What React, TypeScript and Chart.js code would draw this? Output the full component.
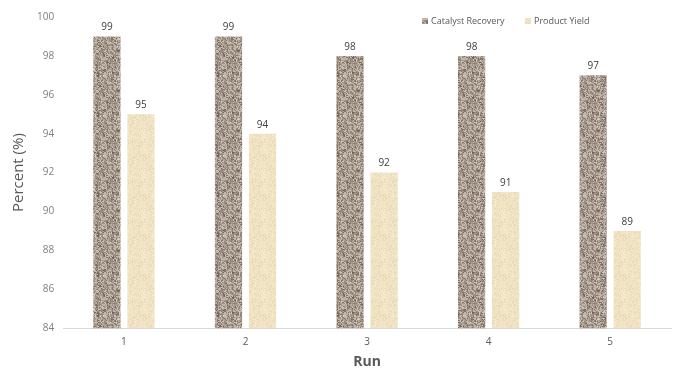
import React, { useEffect, useRef } from "react";
import { Chart, registerables } from "chart.js";

Chart.register(...registerables);

const categories = ["1", "2", "3", "4", "5"];
const catalystRecovery = [99, 99, 98, 98, 97];
const productYield = [95, 94, 92, 91, 89];
const seriesNames = ["Catalyst Recovery", "Product Yield"];
const yTicks = [84, 86, 88, 90, 92, 94, 96, 98, 100];

function hash(i: number, j: number, s: number) {
  let h = (i * 374761393 + j * 668265263 + s * 1442695040) | 0;
  h = (h ^ (h >>> 13)) * 1274126177;
  h = h ^ (h >>> 16);
  return ((h >>> 0) % 1000) / 1000;
}

function makePattern(kind: number): CanvasPattern | string {
  const c = document.createElement("canvas");
  c.width = 40;
  c.height = 40;
  const g = c.getContext("2d");
  if (!g) return kind === 0 ? "#a39689" : "#f1e4c4";
  if (kind === 0) {
    g.fillStyle = "#a89b8f";
    g.fillRect(0, 0, 40, 40);
    for (let y = 0; y < 40; y++) {
      for (let x = 0; x < 40; x++) {
        const r = hash(x, y, 1);
        let col = "";
        if (r < 0.14) col = "#85776c";
        else if (r < 0.19) col = "#72645a";
        else if (r < 0.4) col = "#c0b3a7";
        else if (r < 0.48) col = "#d3c8bd";
        else if (r < 0.62) col = "#978a7f";
        if (col) {
          g.fillStyle = col;
          const w = hash(x, y, 3) < 0.3 ? 2 : 1;
          g.fillRect(x, y, w, w);
        }
      }
    }
  } else {
    g.fillStyle = "#f1e4c4";
    g.fillRect(0, 0, 40, 40);
    for (let y = 0; y < 40; y++) {
      for (let x = 0; x < 40; x++) {
        const r = hash(x, y, 7);
        let col = "";
        if (r < 0.18) col = "#eadbb6";
        else if (r < 0.32) col = "#f6ecd6";
        else if (r < 0.38) col = "#e5d4ad";
        if (col) {
          g.fillStyle = col;
          g.fillRect(x, y, 1, 1);
        }
      }
    }
  }
  const p = g.createPattern(c, "repeat");
  return p || (kind === 0 ? "#a39689" : "#f1e4c4");
}

const labelPlugin = {
  id: "valueLabels",
  afterDatasetsDraw(chart: any) {
    const ctx = chart.ctx;
    ctx.save();
    ctx.font = "10px 'Open Sans', sans-serif";
    ctx.fillStyle = "#404040";
    ctx.textAlign = "center";
    ctx.textBaseline = "bottom";
    chart.data.datasets.forEach((ds: any, di: number) => {
      const meta = chart.getDatasetMeta(di);
      meta.data.forEach((el: any, i: number) => {
        ctx.fillText(String(ds.data[i]), el.x, el.y - 4);
      });
    });
    ctx.restore();
  },
};

const legendPlugin = {
  id: "customLegend",
  afterDraw(chart: any) {
    const ctx = chart.ctx;
    ctx.save();
    ctx.font = "9px 'Open Sans', sans-serif";
    ctx.textBaseline = "middle";
    ctx.textAlign = "left";
    const items = [
      { x: 422, label: seriesNames[0], ds: 0 },
      { x: 525, label: seriesNames[1], ds: 1 },
    ];
    items.forEach((it) => {
      ctx.fillStyle = chart.data.datasets[it.ds].backgroundColor;
      ctx.fillRect(it.x, 18, 6, 6);
      ctx.fillStyle = "#595959";
      ctx.fillText(it.label, it.x + 9, 21);
    });
    ctx.restore();
  },
};

export default function App() {
  const ref = useRef<HTMLCanvasElement>(null);
  useEffect(() => {
    if (!ref.current) return;
    const chart = new Chart(ref.current, {
      type: "bar",
      data: {
        labels: categories,
        datasets: [
          {
            label: seriesNames[0],
            data: catalystRecovery,
            backgroundColor: makePattern(0) as any,
            categoryPercentage: 0.56,
            barPercentage: 0.8,
          },
          {
            label: seriesNames[1],
            data: productYield,
            backgroundColor: makePattern(1) as any,
            categoryPercentage: 0.56,
            barPercentage: 0.8,
          },
        ],
      },
      options: {
        animation: false,
        responsive: false,
        maintainAspectRatio: false,
        layout: { padding: { top: 17, right: 3, left: 10, bottom: 4 } },
        plugins: {
          legend: { display: false },
          tooltip: { enabled: false },
        },
        scales: {
          x: {
            grid: { display: false, drawTicks: false },
            border: { display: true, color: "#d9d9d9", width: 1 },
            ticks: {
              color: "#595959",
              font: { size: 10, family: "'Open Sans', sans-serif" },
              padding: 8,
            },
            title: {
              display: true,
              text: "Run",
              color: "#595959",
              font: { size: 14, weight: "bold", family: "'Open Sans', sans-serif" },
              padding: { top: -3, bottom: 5 },
            },
          },
          y: {
            min: 84,
            max: 100,
            afterBuildTicks: (axis: any) => {
              axis.ticks = yTicks.map((v) => ({ value: v }));
            },
            grid: { display: false, drawTicks: false },
            border: { display: false },
            ticks: {
              color: "#7f7f7f",
              font: { size: 10, family: "'Open Sans', sans-serif" },
              padding: 9,
            },
            title: {
              display: true,
              text: "Percent (%)",
              color: "#595959",
              font: { size: 15, family: "'Open Sans', sans-serif" },
              padding: { top: 0, bottom: 0 },
            },
          },
        },
      },
      plugins: [labelPlugin, legendPlugin],
    });
    return () => chart.destroy();
  }, []);
  return (
    <div style={{ position: "absolute", left: 0, top: 0, width: 674, height: 379, background: "#fff" }}>
      <canvas ref={ref} width={674} height={379} style={{ width: 674, height: 379 }} />
    </div>
  );
}
